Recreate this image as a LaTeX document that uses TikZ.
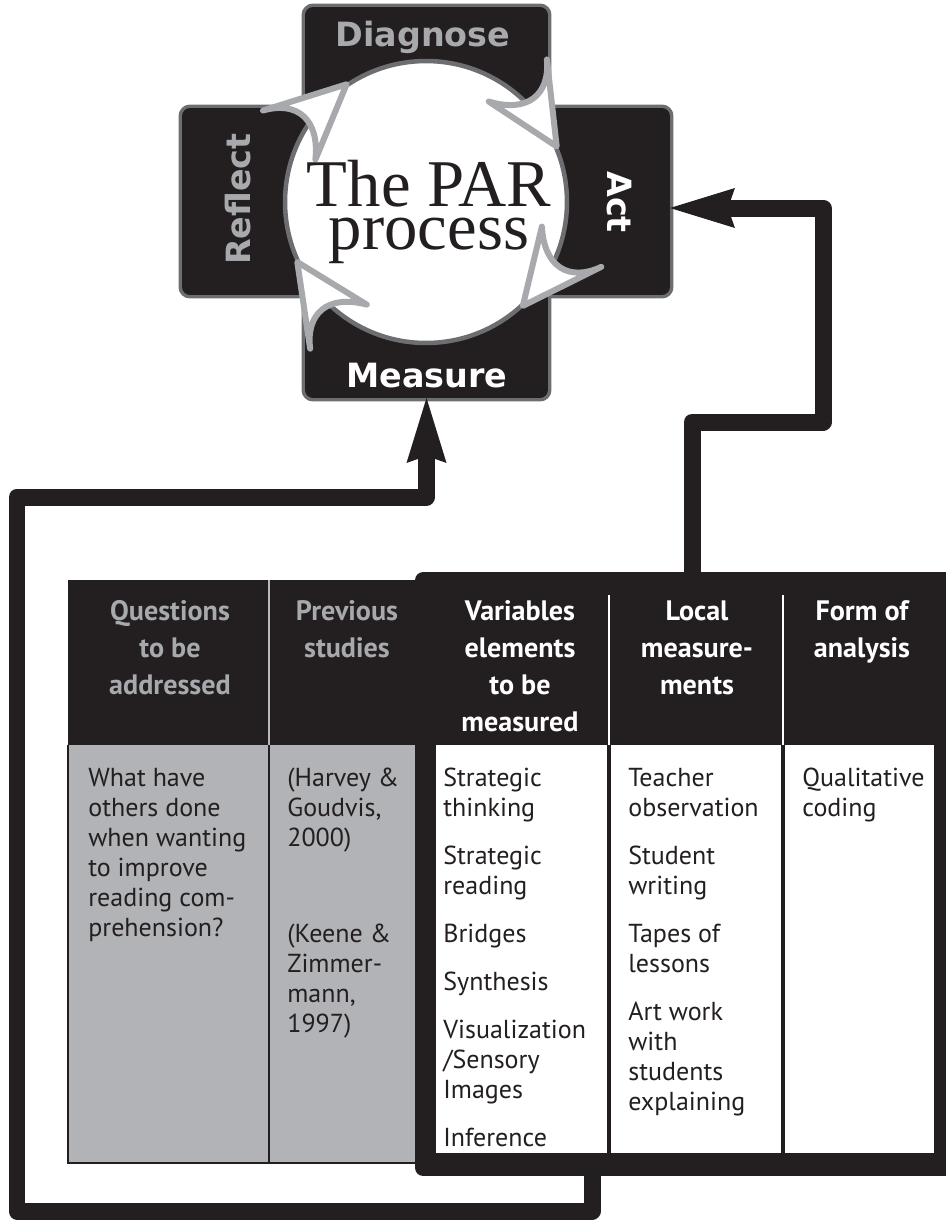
\documentclass[tikz,border=0pt]{standalone}
\usepackage{fontspec}
\setmainfont{PT Sans}
\newfontfamily\armfont{DejaVu Sans}
\newfontfamily\titlefont{Liberation Serif}
\usetikzlibrary{arrows.meta,positioning,calc}
\definecolor{InkBlack}{RGB}{35,31,32}
\definecolor{ArmEdge}{RGB}{109,110,113}
\definecolor{SoftGray}{RGB}{167,169,172}
\definecolor{CellGray}{RGB}{177,179,182}
\tikzset{
  arm/.style={rectangle,rounded corners=0.16cm,draw=ArmEdge,fill=InkBlack,
              line width=0.14cm,inner sep=0pt,outer sep=0pt},
  hub/.style={circle,draw=ArmEdge,fill=white,line width=0.09cm,
              inner sep=0pt,outer sep=0pt,minimum size=5.64cm},
  frame/.style={rectangle,rounded corners=0.16cm,fill=InkBlack,
                inner sep=0pt,outer sep=0pt},
  armlabel/.style={font=\armfont\bfseries\fontsize{19}{22}\selectfont,inner sep=0pt},
  hubtitle/.style={font=\titlefont\fontsize{38}{24.47}\selectfont,align=center,
                   anchor=north,inner sep=0pt,text=InkBlack},
  headtext/.style={font=\bfseries\fontsize{16}{21.05}\selectfont,align=center,
                   anchor=north,inner sep=0pt},
  celltext/.style={font=\fontsize{14.8}{17.07}\selectfont,align=left,
                   anchor=north west,inner sep=0pt,text=InkBlack},
  link/.style={draw=InkBlack,line width=0.34cm,line join=round,
               -{Stealth[length=1.3cm,width=0.8cm,inset=0.14cm,line width=0pt]}},
  cyclehead/.pic={
    \path[draw=SoftGray,fill=white,line width=0.12cm,line join=round]
      (0,0) -- (-84,25) .. controls (-50,14) and (-42,-14) .. (-68,-45) -- cycle;
  },
}

\begin{document}
\begin{tikzpicture}[x=0.02cm,y=0.02cm]
  \useasboundingbox (0,0) rectangle (946,-1221);

  % the cross of the four phases
  \node[arm,minimum width=4.86cm,minimum height=7.82cm] (vbar) at (426.5,-202.5) {};
  \node[arm,minimum width=9.76cm,minimum height=3.74cm] (hbar) at (426,-201.5) {};
  \fill[InkBlack,rounded corners=0.16cm] (vbar.south west) rectangle (vbar.north east);
  \fill[InkBlack,rounded corners=0.16cm] (hbar.south west) rectangle (hbar.north east);

  \node[hub] (hub) at (426,-202) {};
  \foreach \a in {124,23,-47,-155}
    \pic[rotate=\a-90] at ([shift={(\a:142)}]hub.center) {cyclehead};

  \node[hubtitle] (title) at (429,-160) {The PAR\\process};

  \node[armlabel,text=SoftGray,anchor=base] (diag) at (423,-46) {Diagnose};
  \node[armlabel,text=white,anchor=base] (meas) at (427,-387) {Measure};
  \node[armlabel,text=SoftGray,rotate=90] (refl) at (238,-199) {Reflect};
  \node[armlabel,text=white,rotate=-90] (actlbl) at (619,-202) {Act};

  % left half of the table
  \fill[InkBlack] (68,-580) rectangle (420,-745);
  \fill[CellGray] (68,-745) rectangle (420,-1163);
  \draw[InkBlack,line width=0.03cm] (68,-745) -- (68,-1163) -- (420,-1163);
  \draw[SoftGray!80!white,line width=0.04cm] (269,-580) -- (269,-745);
  \draw[InkBlack,line width=0.05cm] (269,-745) -- (269,-1163);

  % right half, in its heavy frame
  \node[frame,minimum width=10.78cm,minimum height=12.08cm] (frame) at (684.5,-874) {};
  \fill[white] (436,-745) rectangle (607,-1153);
  \fill[white] (611,-745) rectangle (781,-1153);
  \fill[white] (785,-745) rectangle (934,-1153);
  \draw[white,line width=0.04cm] (609,-595) -- (609,-745);
  \draw[white,line width=0.04cm] (783,-595) -- (783,-745);

  \node[headtext,text=SoftGray] (qhead) at (170,-600) {Questions\\to be\\addressed};
  \node[headtext,text=SoftGray] (phead) at (347,-600) {Previous\\studies};
  \node[headtext,text=white] (vhead) at (520,-600) {Variables\\elements\\to be\\measured};
  \node[headtext,text=white] (lhead) at (697,-600) {Local\\measure-\\ments};
  \node[headtext,text=white] (fhead) at (862,-600) {Form of\\analysis};

  \node[celltext] (qbody) at (88,-768)
    {What have\\others done\\when wanting\\to improve\\reading com-\\prehension?};
  \node[celltext] (pbody) at (287,-768)
    {(Harvey \&\\Goudvis,\\2000)\\[37.5pt](Keene \&\\Zimmer-\\mann,\\1997)};
  \node[celltext] (vbody) at (443,-768)
    {Strategic\\thinking\\[10.24pt]Strategic\\reading\\[10.24pt]Bridges\\[10.24pt]%
     Synthesis\\[10.24pt]Visualization\\/Sensory\\Images\\[10.24pt]Inference};
  \node[celltext] (lbody) at (628,-768)
    {Teacher\\observation\\[10.24pt]Student\\writing\\[10.24pt]Tapes of\\lessons\\[10.24pt]%
     Art work\\with\\students\\explaining};
  \node[celltext] (fbody) at (802,-768) {Qualitative\\coding};

  % feedback lines from the table back into the cycle
  \coordinate (loopout) at (592,-1176);
  \coordinate (actout) at (692,-572);
  \draw[link] (loopout) -- (592,-1211) -- (17,-1211) -- (17,-497) -| (vbar.south);
  \draw[link] (actout) -- (692,-422) -- (823,-422) |- ([yshift=-0.13cm]hbar.east);
\end{tikzpicture}
\end{document}
